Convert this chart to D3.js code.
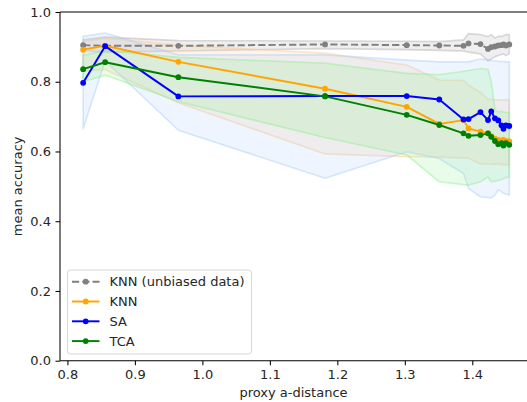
<!DOCTYPE html>
<html>
<head>
<meta charset="utf-8">
<script src="https://cdn.jsdelivr.net/npm/d3@7"></script>
<style>
  html, body { margin: 0; padding: 0; background: #ffffff; }
  svg { display: block; }
  text { font-family: "DejaVu Sans", sans-serif; }
</style>
</head>
<body>
<svg id="chart" width="527" height="402"></svg>
<script>
// ---------- data ----------
const proxyADistance = [0.8233, 0.8559, 0.9644, 1.1818, 1.3028, 1.3511, 1.3870, 1.3944, 1.4121,
  1.4233, 1.4281, 1.4336, 1.4385, 1.4433, 1.4462, 1.4499, 1.4548];

const knnUnbiasedMean  = [0.905, 0.903, 0.903, 0.907, 0.905, 0.904, 0.903, 0.910, 0.908, 0.894, 0.899, 0.901, 0.904, 0.905, 0.907, 0.904, 0.907];
const knnUnbiasedUpper = [0.920, 0.928, 0.918, 0.917, 0.916, 0.915, 0.920, 0.938, 0.935, 0.930, 0.935, 0.925, 0.930, 0.930, 0.932, 0.935, 0.935];
const knnUnbiasedLower = [0.890, 0.885, 0.888, 0.895, 0.892, 0.890, 0.888, 0.885, 0.880, 0.860, 0.865, 0.872, 0.875, 0.878, 0.880, 0.875, 0.880];

const knnMean  = [0.892, 0.903, 0.857, 0.780, 0.728, 0.679, 0.690, 0.666, 0.657, 0.652, 0.644, 0.637, 0.633, 0.631, 0.633, 0.630, 0.629];
const knnUpper = [0.915, 0.925, 0.905, 0.882, 0.848, 0.805, 0.804, 0.790, 0.770, 0.750, 0.750, 0.748, 0.748, 0.748, 0.748, 0.748, 0.748];
const knnLower = [0.830, 0.835, 0.740, 0.593, 0.585, 0.584, 0.581, 0.581, 0.564, 0.564, 0.564, 0.563, 0.565, 0.562, 0.563, 0.562, 0.561];

const saMean  = [0.797, 0.902, 0.758, 0.759, 0.759, 0.749, 0.692, 0.693, 0.713, 0.690, 0.715, 0.695, 0.689, 0.675, 0.665, 0.675, 0.673];
const saUpper = [0.930, 0.940, 0.877, 0.877, 0.862, 0.857, 0.857, 0.857, 0.865, 0.862, 0.860, 0.860, 0.858, 0.858, 0.858, 0.857, 0.857];
const saLower = [0.665, 0.860, 0.661, 0.523, 0.599, 0.580, 0.537, 0.494, 0.470, 0.468, 0.467, 0.475, 0.490, 0.485, 0.480, 0.478, 0.475];

const tcaMean  = [0.836, 0.856, 0.813, 0.758, 0.705, 0.676, 0.652, 0.645, 0.647, 0.652, 0.642, 0.630, 0.621, 0.624, 0.617, 0.624, 0.619];
const tcaUpper = [0.875, 0.890, 0.870, 0.853, 0.824, 0.820, 0.830, 0.832, 0.838, 0.836, 0.800, 0.720, 0.713, 0.715, 0.713, 0.712, 0.712];
const tcaLower = [0.800, 0.819, 0.743, 0.640, 0.590, 0.513, 0.505, 0.504, 0.513, 0.527, 0.513, 0.515, 0.517, 0.520, 0.522, 0.525, 0.527];

const seriesNames = ["KNN (unbiased data)", "KNN", "SA", "TCA"];
const xTickValues = [0.8, 0.9, 1.0, 1.1, 1.2, 1.3, 1.4];
const xTickLabels = ["0.8", "0.9", "1.0", "1.1", "1.2", "1.3", "1.4"];
const yTickValues = [0.0, 0.2, 0.4, 0.6, 0.8, 1.0];
const yTickLabels = ["0.0", "0.2", "0.4", "0.6", "0.8", "1.0"];
const xAxisTitle = "proxy a-distance";
const yAxisTitle = "mean accuracy";

// ---------- styles ----------
const series = [
  { name: seriesNames[0], mean: knnUnbiasedMean, upper: knnUnbiasedUpper, lower: knnUnbiasedLower,
    color: "#808080", band: "#b0b0b0", dash: "7.2,3.1" },
  { name: seriesNames[1], mean: knnMean, upper: knnUpper, lower: knnLower,
    color: "#ffa500", band: "#ffc890", dash: null },
  { name: seriesNames[2], mean: saMean, upper: saUpper, lower: saLower,
    color: "#0000ff", band: "#a8cdf8", dash: null },
  { name: seriesNames[3], mean: tcaMean, upper: tcaUpper, lower: tcaLower,
    color: "#008000", band: "#90ee90", dash: null }
];

const plot = { left: 60, right: 531, top: 12, bottom: 360.7 };
const svg = d3.select("#chart");
svg.append("rect").attr("width", 527).attr("height", 402).attr("fill", "#ffffff");

const x = d3.scaleLinear().domain([0.789, 1.487]).range([plot.left, plot.right]);
const y = d3.scaleLinear().domain([0, 1]).range([plot.bottom, plot.top]);

svg.append("clipPath").attr("id", "clip")
  .append("rect").attr("x", plot.left).attr("y", plot.top)
  .attr("width", plot.right - plot.left).attr("height", plot.bottom - plot.top);

const g = svg.append("g").attr("clip-path", "url(#clip)");

// bands
const area = d3.area()
  .x((d) => x(d.x)).y0((d) => y(d.lo)).y1((d) => y(d.hi));
series.forEach((s) => {
  const pts = proxyADistance.map((v, i) => ({ x: v, lo: s.lower[i], hi: s.upper[i] }));
  g.append("path").datum(pts).attr("d", area)
    .attr("fill", s.band).attr("fill-opacity", 0.2)
    .attr("stroke", s.band).attr("stroke-opacity", 0.45).attr("stroke-width", 1.6)
    .attr("stroke-linejoin", "round");
});

// lines
const line = d3.line().x((d) => x(d.x)).y((d) => y(d.y));
series.forEach((s) => {
  const pts = proxyADistance.map((v, i) => ({ x: v, y: s.mean[i] }));
  g.append("path").datum(pts).attr("d", line)
    .attr("fill", "none").attr("stroke", s.color).attr("stroke-width", 1.95)
    .attr("stroke-linejoin", "round")
    .attr("stroke-dasharray", s.dash);
  g.selectAll(null).data(pts).enter().append("circle")
    .attr("cx", (d) => x(d.x)).attr("cy", (d) => y(d.y)).attr("r", 2.9)
    .attr("fill", s.color);
});

// axes
const xAxis = d3.axisBottom(x).tickValues(xTickValues)
  .tickFormat((d, i) => xTickLabels[i]).tickSize(4.5).tickPadding(4.5);
const yAxis = d3.axisLeft(y).tickValues(yTickValues)
  .tickFormat((d, i) => yTickLabels[i]).tickSize(4.5).tickPadding(4.5);

const gx = svg.append("g").attr("transform", `translate(0,${plot.bottom})`).call(xAxis);
const gy = svg.append("g").attr("transform", `translate(${plot.left},0)`).call(yAxis);
[gx, gy].forEach((a) => {
  a.select(".domain").remove();
  a.selectAll(".tick line").attr("stroke", "#000").attr("stroke-width", 1.05);
  a.selectAll(".tick text").attr("fill", "#262626").style("font-size", "13px")
    .style("font-family", "'DejaVu Sans', sans-serif");
});

// spines
const spine = svg.append("g").attr("stroke", "#000").attr("stroke-width", 1.05).attr("fill", "none");
spine.append("line").attr("x1", plot.left).attr("x2", plot.left).attr("y1", plot.top).attr("y2", plot.bottom);
spine.append("line").attr("x1", plot.left).attr("x2", plot.right).attr("y1", plot.bottom).attr("y2", plot.bottom);
spine.append("line").attr("x1", plot.left).attr("x2", plot.right).attr("y1", plot.top).attr("y2", plot.top);
spine.append("line").attr("x1", plot.right).attr("x2", plot.right).attr("y1", plot.top).attr("y2", plot.bottom);

// axis titles
svg.append("text").attr("x", (plot.left + plot.right) / 2 - 2).attr("y", 397)
  .attr("text-anchor", "middle").style("font-size", "13px").attr("fill", "#262626").text(xAxisTitle);
svg.append("text")
  .attr("transform", `translate(22,${(plot.top + plot.bottom) / 2}) rotate(-90)`)
  .attr("text-anchor", "middle").style("font-size", "13px").attr("fill", "#262626").text(yAxisTitle);

// legend
const lg = svg.append("g");
lg.append("rect").attr("x", 67.5).attr("y", 270).attr("width", 184).attr("height", 84)
  .attr("rx", 3).attr("fill", "#ffffff").attr("fill-opacity", 0.8)
  .attr("stroke", "#d6d6d6").attr("stroke-width", 1);
series.forEach((s, i) => {
  const ry = 281.7 + i * 19.8;
  lg.append("line").attr("x1", 72).attr("x2", 99.5).attr("y1", ry).attr("y2", ry)
    .attr("stroke", s.color).attr("stroke-width", 1.95).attr("stroke-dasharray", s.dash);
  lg.append("circle").attr("cx", 85.7).attr("cy", ry).attr("r", 2.9).attr("fill", s.color);
  lg.append("text").attr("x", 109.5).attr("y", ry + 4.7).style("font-size", "13px")
    .attr("fill", "#262626").text(s.name);
});
</script>
</body>
</html>
